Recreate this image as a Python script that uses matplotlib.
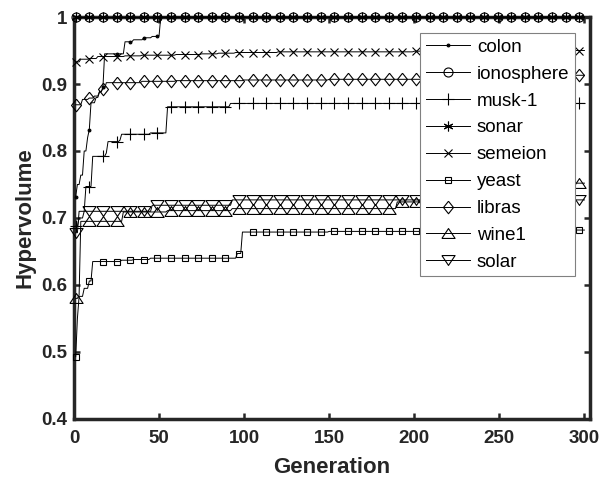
import numpy as np
import matplotlib
matplotlib.use('Agg')
import matplotlib.pyplot as plt

plt.rcParams['font.family'] = ['Liberation Sans', 'DejaVu Sans']
plt.rcParams['font.weight'] = 'bold'

# generations 1..300, each curve stored as (generation where value changes, new value)
generations = np.arange(1, 301)

colon_x = [1, 2, 4, 6, 8, 9, 10, 13, 15, 17, 18, 30, 35, 41, 46, 50, 51]
colon_y = [0.732, 0.750, 0.764, 0.800, 0.820, 0.832, 0.872, 0.880, 0.888, 0.895, 0.945,
           0.963, 0.966, 0.969, 0.971, 0.972, 1.0]

ionosphere_x = [1]
ionosphere_y = [1.0]

musk_x = [1, 3, 6, 7, 11, 19, 20, 27, 28, 45, 55, 92]
musk_y = [0.688, 0.700, 0.710, 0.747, 0.792, 0.797, 0.814, 0.816, 0.825, 0.827, 0.866, 0.871]

sonar_x = [1]
sonar_y = [1.0]

semeion_x = [1, 4, 9, 14, 30, 40, 60, 75, 85, 95, 120, 200, 260]
semeion_y = [0.933, 0.937, 0.938, 0.941, 0.942, 0.943, 0.944, 0.945, 0.946, 0.947, 0.948,
             0.949, 0.950]

yeast_x = [1, 2, 3, 6, 9, 11, 28, 35, 45, 96, 99, 150, 250]
yeast_y = [0.493, 0.550, 0.583, 0.595, 0.606, 0.635, 0.637, 0.638, 0.640, 0.647, 0.679,
           0.680, 0.682]

libras_x = [1, 5, 9, 12, 15, 17, 19, 40, 60, 100, 150, 260]
libras_y = [0.869, 0.877, 0.879, 0.882, 0.889, 0.893, 0.902, 0.904, 0.905, 0.906, 0.907, 0.913]

wine1_x = [1, 3, 4, 29, 55, 93, 190, 240, 270]
wine1_y = [0.580, 0.585, 0.695, 0.709, 0.711, 0.714, 0.724, 0.740, 0.752]

solar_x = [1, 3, 46, 93]
solar_y = [0.678, 0.710, 0.719, 0.727]

names = ['colon', 'ionosphere', 'musk-1', 'sonar', 'semeion', 'yeast', 'libras', 'wine1', 'solar']
curves = [(colon_x, colon_y), (ionosphere_x, ionosphere_y), (musk_x, musk_y),
          (sonar_x, sonar_y), (semeion_x, semeion_y), (yeast_x, yeast_y),
          (libras_x, libras_y), (wine1_x, wine1_y), (solar_x, solar_y)]

# matlab-like marker shapes (wide triangles, tall diamond, asterisk)
tri_up = [(-1, -0.75), (1, -0.75), (0, 0.75), (-1, -0.75)]
tri_down = [(-1, 0.75), (1, 0.75), (0, -0.75), (-1, 0.75)]
diamond = [(0, 1), (0.8, 0), (0, -1), (-0.8, 0), (0, 1)]
markers = ['.', 'o', '+', (6, 2, 0), 'x', 's', diamond, tri_up, tri_down]
msizes = [4, 6.5, 8, 7, 6, 5, 9, 9.5, 9.5]


def expand(xs, vs):
    idx = np.searchsorted(xs, generations, side='right') - 1
    return np.asarray(vs)[idx]


fig = plt.figure(figsize=(6.08, 4.79), dpi=100)
ax = fig.add_axes([0.1217, 0.1253, 0.8479, 0.8392])

for name, (xs, vs), m, s in zip(names, curves, markers, msizes):
    face = 'k' if isinstance(m, str) and m == '.' else 'none'
    ax.plot(generations, expand(xs, vs), color='k', lw=0.7, marker=m, ms=s,
            mfc=face, mec='k', mew=0.8, markevery=8, clip_on=False, zorder=3, label=name)

ax.set_xlim(0, 303)
ax.set_ylim(0.4, 1)
ax.set_xticks(range(0, 301, 50))
ax.set_yticks([0.4, 0.5, 0.6, 0.7, 0.8, 0.9, 1.0])
ax.set_yticklabels(['0.4', '0.5', '0.6', '0.7', '0.8', '0.9', '1'])
ax.tick_params(direction='in', top=True, right=True, length=4, width=1.8,
               labelsize=13.5, colors='#262626')
ax.tick_params(axis='x', pad=8)
ax.tick_params(axis='y', pad=5)
for sp in ax.spines.values():
    sp.set_linewidth(2.5)
    sp.set_color('#262626')

ax.set_xlabel('Generation', fontsize=16, fontweight='bold', color='#262626', labelpad=7)
ax.set_ylabel('Hypervolume', fontsize=16, fontweight='bold', color='#262626', labelpad=4)

leg = ax.legend(loc='upper right', bbox_to_anchor=(0.972, 0.960), borderaxespad=0,
                fancybox=False, edgecolor='0.5', framealpha=1,
                prop={'size': 13.5, 'weight': 'normal'}, handlelength=2.35,
                handletextpad=0.37, labelspacing=0.52, borderpad=0.3)
leg.get_frame().set_linewidth(0.8)
leg.set_zorder(5)

fig.savefig('out.png', dpi=100)
